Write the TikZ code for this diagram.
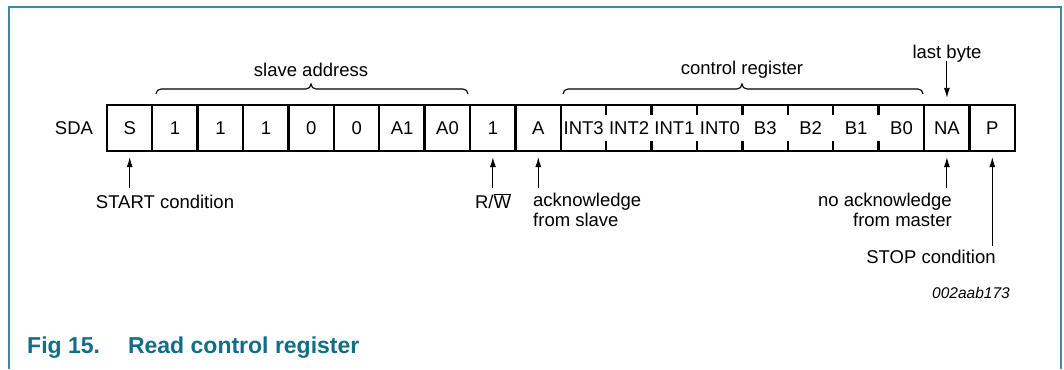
\documentclass[tikz,border=0pt]{standalone}
\usepackage{fontspec}
\setmainfont{Liberation Sans}
\usetikzlibrary{arrows.meta}
\definecolor{frameteal}{RGB}{58,138,163}
\definecolor{capteal}{RGB}{16,110,136}
\begin{document}
\begin{tikzpicture}[x=1pt,y=-1pt,
  txt/.style={inner sep=0pt,font=\fontsize{18.5}{19.5}\selectfont},
  cell/.style={txt,minimum width=45.4pt,minimum height=46pt},
  boxline/.style={line width=2.4pt},
  tickline/.style={line width=2.4pt},
  brace/.style={line width=1.1pt},
  arr/.style={line width=0.9pt,-{Latex[length=10pt,width=6pt]}},
  frame/.style={draw=frameteal,line width=1.4pt}]
\useasboundingbox (0,0) rectangle (1064,369);
% frame
\draw[frame] (9,369) -- (9,7) -- (1061,7) -- (1061,369);
% cells
\foreach \t [count=\i from 0] in {S,1,1,1,0,0,A1,A0,1,A,INT3,INT2,INT1,INT0,B3,B2,B1,B0,NA,P}
  \node[cell] (c\i) at ({107+45.4*\i+22.7},128) {\t};
\draw[boxline] (c0.north west) rectangle (c19.south east);
\foreach \i in {1,...,10,18,19}
  \draw[boxline] (c\i.north west) -- (c\i.south west);
\foreach \i in {11,...,17}{
  \draw[tickline] (c\i.north west) -- ([yshift=-10pt]c\i.north west);
  \draw[tickline] (c\i.south west) -- ([yshift=10pt]c\i.south west);
}
\node[txt] (sda) at (74,128) {SDA};
% braces
\draw[brace] (156,94) to[out=90,in=180] (161,89) -- (306,89) to[out=0,in=270] (311,84)
  to[out=270,in=180] (316,89) -- (463,89) to[out=0,in=90] (468,94);
\node[txt] (sa) at (311,70) {slave address};
\draw[brace] (563,94) to[out=90,in=180] (568,89) -- (737,89) to[out=0,in=270] (742,84)
  to[out=270,in=180] (747,89) -- (918,89) to[out=0,in=90] (923,94);
\node[txt] (cr) at (742,70) {control register};
% labels
\node[txt] (lb) at (947,54) {last byte};
\draw[arr] (lb.south -| c18.north) ++(0,-2) -- ([yshift=7pt]c18.north);
\node[txt] (start) at (165,202) {START condition};
\node[txt] (rw) at (493,201) {R/$\overline{\hbox{W}}$};
\node[txt,anchor=north west,align=left] (ack) at (533,193) {acknowledge\\from slave};
\node[txt,anchor=north east,align=right] (nack) at (952,193) {no acknowledge\\from master};
\node[txt] (stop) at (931,257) {STOP condition};
\draw[arr] ([yshift=-37pt]c0.south) -- ([yshift=-6pt]c0.south);
\draw[arr] ([yshift=-37pt]c8.south) -- ([yshift=-6pt]c8.south);
\draw[arr] ([yshift=-37pt]c9.south) -- ([yshift=-6pt]c9.south);
\draw[arr] ([yshift=-37pt]c18.south) -- ([yshift=-6pt]c18.south);
\draw[arr] ([yshift=-95pt]c19.south) -- ([yshift=-6pt]c19.south);
\node[inner sep=0pt,anchor=east,font=\fontsize{15.5}{17}\selectfont\itshape] (code) at (1010,293) {002aab173};
\node[inner sep=0pt,anchor=base west,text=capteal,font=\fontsize{23}{26}\selectfont\bfseries] (cap) at (27,353) {Fig 15.\hspace{28pt}Read control register};
\end{tikzpicture}
\end{document}
